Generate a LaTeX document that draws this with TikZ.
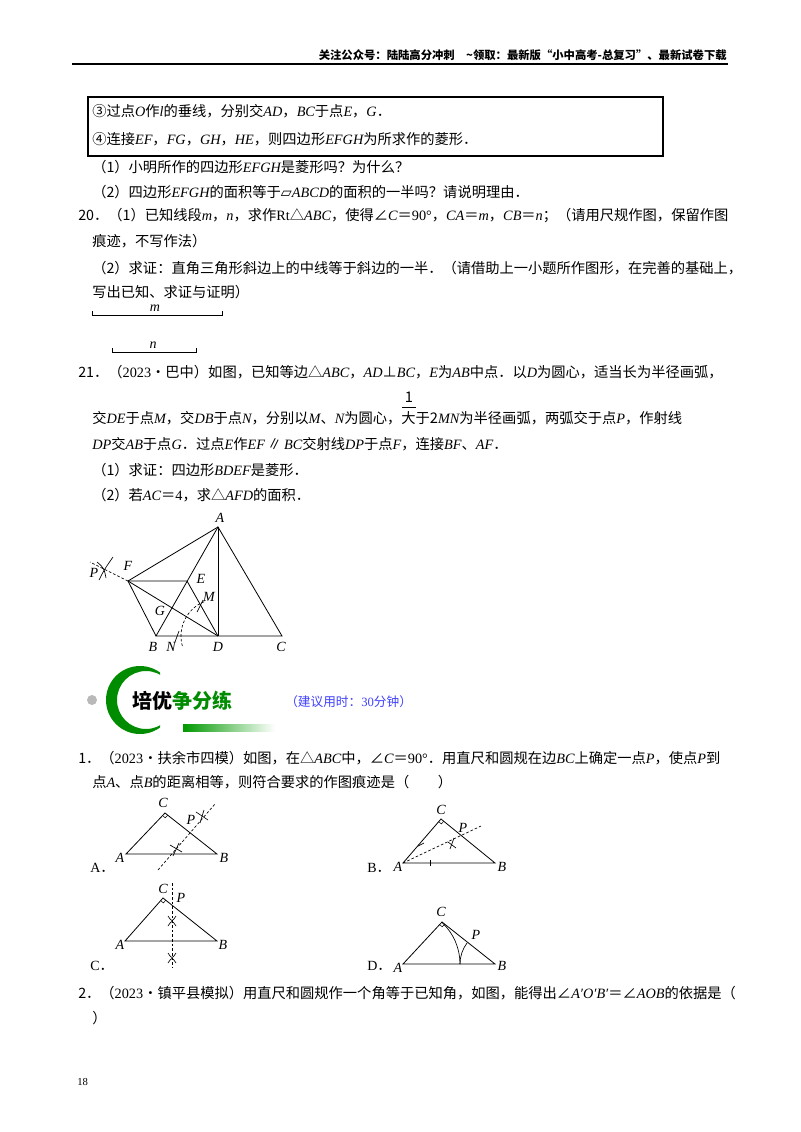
\documentclass[tikz,border=0pt]{standalone}
\usepackage{fontspec}
\usetikzlibrary{calc}
\setmainfont{Noto Sans CJK SC}
\newfontfamily\lat{Liberation Serif}
\newfontfamily\dv{DejaVu Sans}
\newcommand{\mi}[1]{{\lat\itshape #1}}
\newcommand{\ru}[1]{{\lat #1}}
\begin{document}
\begin{tikzpicture}[x=0.75pt,y=-0.75pt,
  txt/.style={anchor=west,inner sep=0pt,font=\fontsize{10.7pt}{12pt}\selectfont},
  lab/.style={inner sep=0pt,font=\fontsize{10.5pt}{12pt}\lat\itshape},
  geo/.style={line width=0.6pt},
  dsh/.style={line width=0.5pt,dashed,dash pattern=on 2pt off 1.5pt},
  opt/.style={anchor=west,inner sep=0pt,font=\fontsize{10.5pt}{12pt}\selectfont}]
\useasboundingbox (0,0) rectangle (800,1132);
\fill[white] (0,0) rectangle (800,1132);
% header
\node[anchor=east,inner sep=0pt,font=\fontsize{8.5pt}{10pt}\bfseries\selectfont] (hdr) at (727,55) {关注公众号：陆陆高分冲刺\quad \~{}领取：最新版“小中高考-总复习”、最新试卷下载};
\draw[line width=0.8pt] (72,64) coordinate (h1) -- (728,64) coordinate (h2);
% box
\draw[line width=0.8pt] (88,97) coordinate (b1) rectangle (663,156) coordinate (b2);
\node[txt] (l1) at (92,111) {③过点\mi{O}作\mi{l}的垂线，分别交\mi{AD}，\mi{BC}于点\mi{E}，\mi{G}．};
\node[txt] (l2) at (92,139) {④连接\mi{EF}，\mi{FG}，\mi{GH}，\mi{HE}，则四边形\mi{EFGH}为所求作的菱形．};
\node[txt] (l3) at (92,167) {（1）小明所作的四边形\mi{EFGH}是菱形吗？为什么？};
\node[txt] (l4) at (92,192) {（2）四边形\mi{EFGH}的面积等于{\dv ▱}\mi{ABCD}的面积的一半吗？请说明理由．};
\node[txt] (l5) at (78,216) {20．（1）已知线段\mi{m}，\mi{n}，求作\ru{Rt}△\mi{ABC}，使得∠\mi{C}＝\ru{90°}，\mi{CA}＝\mi{m}，\mi{CB}＝\mi{n}；（请用尺规作图，保留作图};
\node[txt] (l6) at (92,241) {痕迹，不写作法）};
\node[txt] (l7) at (92,268) {（2）求证：直角三角形斜边上的中线等于斜边的一半．（请借助上一小题所作图形，在完善的基础上，};
\node[txt] (l8) at (92,292) {写出已知、求证与证明）};
% segments m, n
\coordinate (m1) at (92,315); \coordinate (m2) at (222,315);
\draw[line width=0.6pt] ($(m1)+(0,-4)$) |- (m2) -- ++(0,-4);
\node[lab] (ml) at (155,308) {m};
\coordinate (n1) at (112,352); \coordinate (n2) at (196,352);
\draw[line width=0.6pt] ($(n1)+(0,-4)$) |- (n2) -- ++(0,-4);
\node[lab] (nl) at (153,345) {n};
% problem 21
\node[txt] (p1) at (78,372) {21．（\ru{2023}•巴中）如图，已知等边△\mi{ABC}，\mi{AD}⊥\mi{BC}，\mi{E}为\mi{AB}中点．以\mi{D}为圆心，适当长为半径画弧，};
\node[inner sep=0pt,font=\fontsize{11pt}{12pt}\selectfont] (f1) at (409,397) {1};
\draw[line width=0.6pt] (402,407) coordinate (fb1) -- (416,407) coordinate (fb2);
\node[txt] (p2) at (92,418) {交\mi{DE}于点\mi{M}，交\mi{DB}于点\mi{N}，分别以\mi{M}、\mi{N}为圆心，大于{\fontsize{11pt}{12pt}\selectfont 2}\mi{MN}为半径画弧，两弧交于点\mi{P}，作射线};
\node[txt] (p3) at (92,444) {\mi{DP}交\mi{AB}于点\mi{G}．过点\mi{E}作\mi{EF}\,∥\,\mi{BC}交射线\mi{DP}于点\mi{F}，连接\mi{BF}、\mi{AF}．};
\node[txt] (p4) at (92,470) {（1）求证：四边形\mi{BDEF}是菱形．};
\node[txt] (p5) at (92,495) {（2）若\mi{AC}＝\ru{4}，求△\mi{AFD}的面积．};
% figure 21
\coordinate (A) at (218,527); \coordinate (B) at (156,636);
\coordinate (D) at (218,636); \coordinate (C) at (282,636);
\coordinate (E) at (187,581); \coordinate (F) at (128,581);
\coordinate (G) at (166.5,617.4);
\coordinate (P) at (104,569);
\draw[geo] (A) -- (B) -- (C) -- cycle;
\draw[geo] (A) -- (D);
\draw[geo] (F) -- (A); \draw[geo] (F) -- (E) -- (D);
\draw[geo] (F) -- (B); \draw[geo] (F) -- (D);
\draw[dsh] (F) -- (90,562);
\draw[dsh] (D) ++(-112:37) arc (-112:-197:37);
\draw[line width=0.5pt] (203,600) -- (197,612);
\draw[line width=0.5pt] (179,631) -- (175,642);
\draw[line width=0.5pt] (99,580) .. controls (104,570) .. (113,557);
\draw[line width=0.5pt] (97,562) .. controls (104,568) .. (106,578);
\node[lab] (lA) at (220,518) {A};
\node[lab] (lB) at (153,647) {B};
\node[lab] (lN) at (171,647) {N};
\node[lab] (lD) at (218,647) {D};
\node[lab] (lC) at (281,647) {C};
\node[lab] (lE) at (201,579) {E};
\node[lab] (lF) at (128,566) {F};
\node[lab] (lG) at (160,611) {G};
\node[lab] (lM) at (209,597) {M};
\node[lab] (lP) at (94,573) {P};
% banner
\fill[gray!55] (92,700) circle (5);
\begin{scope}
\clip (100,665) rectangle (160,735);
\fill[green!55!black,even odd rule] (140,700) circle (34) (146,700) circle (29);
\end{scope}
\shade[left color=green!60!black,right color=white] (183,724) rectangle (275,731);
\node[anchor=west,inner sep=0pt,font=\fontsize{15pt}{16pt}\bfseries\selectfont] (ban) at (132,701) {培优\textcolor{green!55!black}{争分练}};
\node[anchor=west,inner sep=0pt,text=blue!75,font=\fontsize{9.5pt}{11pt}\selectfont] (time) at (285,702) {（建议用时：\ru{30}分钟）};
% question 1
\node[txt] (q1) at (78,758) {1．（\ru{2023}•扶余市四模）如图，在△\mi{ABC}中，∠\mi{C}＝\ru{90°}．用直尺和圆规在边\mi{BC}上确定一点\mi{P}，使点\mi{P}到};
\node[txt] (q2) at (92,782) {点\mi{A}、点\mi{B}的距离相等，则符合要求的作图痕迹是（\qquad）};
% option A
\coordinate (aA) at (126,854); \coordinate (aB) at (217,854); \coordinate (aC) at (165,813);
\draw[geo] (aA) -- (aB) -- (aC) -- cycle;
\draw[line width=0.4pt] (aC) ++(40:3.5) -- ++(133:3.5) -- ++(220:3.5);
\draw[dsh] (158,870) -- (215,804);
\draw[line width=0.5pt] (170,845) -- (182,852); \draw[line width=0.5pt] (173,856) -- (179,843);
\draw[line width=0.5pt] (196,812) -- (208,820); \draw[line width=0.5pt] (200,823) -- (204,810);
\node[lab] (aAl) at (120,858) {A}; \node[lab] (aBl) at (224,858) {B};
\node[lab] (aCl) at (163,803) {C}; \node[lab] (aPl) at (191,820) {P};
\node[opt] (oA) at (90,868) {\ru{A}．};
% option B
\coordinate (bA) at (403,863); \coordinate (bB) at (495,863); \coordinate (bC) at (441,819);
\draw[geo] (bA) -- (bB) -- (bC) -- cycle;
\draw[line width=0.4pt] (bC) ++(40:3.5) -- ++(131:3.5) -- ++(220:3.5);
\draw[dsh] (bA) -- (481,826);
\draw[line width=0.5pt] (418,846) -- (424,843);
\draw[line width=0.5pt] (430,860) -- (430,866);
\draw[line width=0.5pt] (448,842) -- (456,848); \draw[line width=0.5pt] (450,849) -- (454,838);
\node[lab] (bAl) at (398,867) {A}; \node[lab] (bBl) at (502,867) {B};
\node[lab] (bCl) at (441,810) {C}; \node[lab] (bPl) at (463,828) {P};
\node[opt] (oB) at (367,868) {\ru{B}．};
% option C
\coordinate (cA) at (125,941); \coordinate (cB) at (217,941); \coordinate (cC) at (163,898);
\draw[geo] (cA) -- (cB) -- (cC) -- cycle;
\draw[line width=0.4pt] (cC) ++(40:3.5) -- ++(131:3.5) -- ++(220:3.5);
\draw[dsh] (172,883) -- (172,968);
\draw[line width=0.5pt] (168,916) .. controls (172,922) .. (176,916);
\draw[line width=0.5pt] (168,926) .. controls (172,920) .. (176,926);
\draw[line width=0.5pt] (168,953) .. controls (172,959) .. (176,953);
\draw[line width=0.5pt] (168,963) .. controls (172,957) .. (176,963);
\node[lab] (cAl) at (120,945) {A}; \node[lab] (cBl) at (223,945) {B};
\node[lab] (cCl) at (163,889) {C}; \node[lab] (cPl) at (181,898) {P};
\node[opt] (oC) at (90,966) {\ru{C}．};
% option D
\coordinate (dA) at (403,964); \coordinate (dB) at (495,964); \coordinate (dC) at (442,922);
\draw[geo] (dA) -- (dB) -- (dC) -- cycle;
\draw[line width=0.4pt] (dC) ++(40:3.5) -- ++(133:3.5) -- ++(220:3.5);
\draw[line width=0.5pt] (dA) ++(-47:57) arc (-47:0:57);
\draw[line width=0.5pt] (dB) ++(180:35) arc (180:217:35);
\node[lab] (dAl) at (398,968) {A}; \node[lab] (dBl) at (502,966) {B};
\node[lab] (dCl) at (441,912) {C}; \node[lab] (dPl) at (476,935) {P};
\node[opt] (oD) at (367,966) {\ru{D}．};
% question 2
\node[txt] (r1) at (78,993) {2．（\ru{2023}•镇平县模拟）用直尺和圆规作一个角等于已知角，如图，能得出∠\mi{A′O′B′}＝∠\mi{AOB}的依据是（};
\node[txt] (r2) at (92,1018) {）};
\node[anchor=west,inner sep=0pt,font=\fontsize{8pt}{9pt}\lat] (pg) at (77,1082) {18};
\end{tikzpicture}
\end{document}
